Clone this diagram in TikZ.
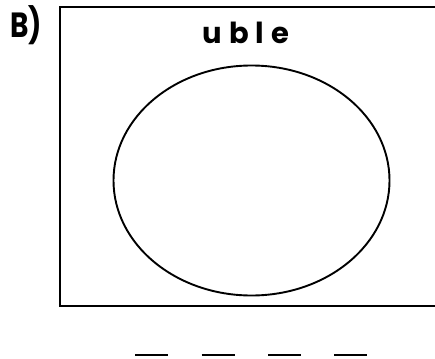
\documentclass[tikz,border=0pt]{standalone}
\usepackage{fontspec}
\setmainfont{Poppins}
\usetikzlibrary{shapes.geometric, positioning}

\begin{document}
\begin{tikzpicture}[x=1pt, y=-1pt,
            frame/.style={line width=2.1pt},
            setline/.style={draw, ellipse, line width=1.9pt, inner sep=0pt,
                            minimum width=276pt, minimum height=230pt},
            blank/.style={line width=2.8pt},
            heading/.style={font=\fontsize{29}{29}\selectfont\bfseries
                            \addfontfeature{LetterSpace=24}, inner sep=0pt}
        ]
            \clip (0, 0) rectangle (435, 358);

            \node[font=\fontsize{35}{35}\selectfont\bfseries, inner sep=0pt,
                  anchor=base west, xscale=0.8] (tag) at (10, 37.5) {B)};

            \draw[frame] (60, 7) rectangle (445, 306);
            \node[heading, anchor=base] (word) at (246, 43.5) {uble};
            \node[setline] (set) at (251.5, 180.5) {};

            \foreach \x in {135, 201.5, 268, 334}
                \draw[blank] (\x, 355) -- ++(33, 0);
        \end{tikzpicture}
\end{document}
